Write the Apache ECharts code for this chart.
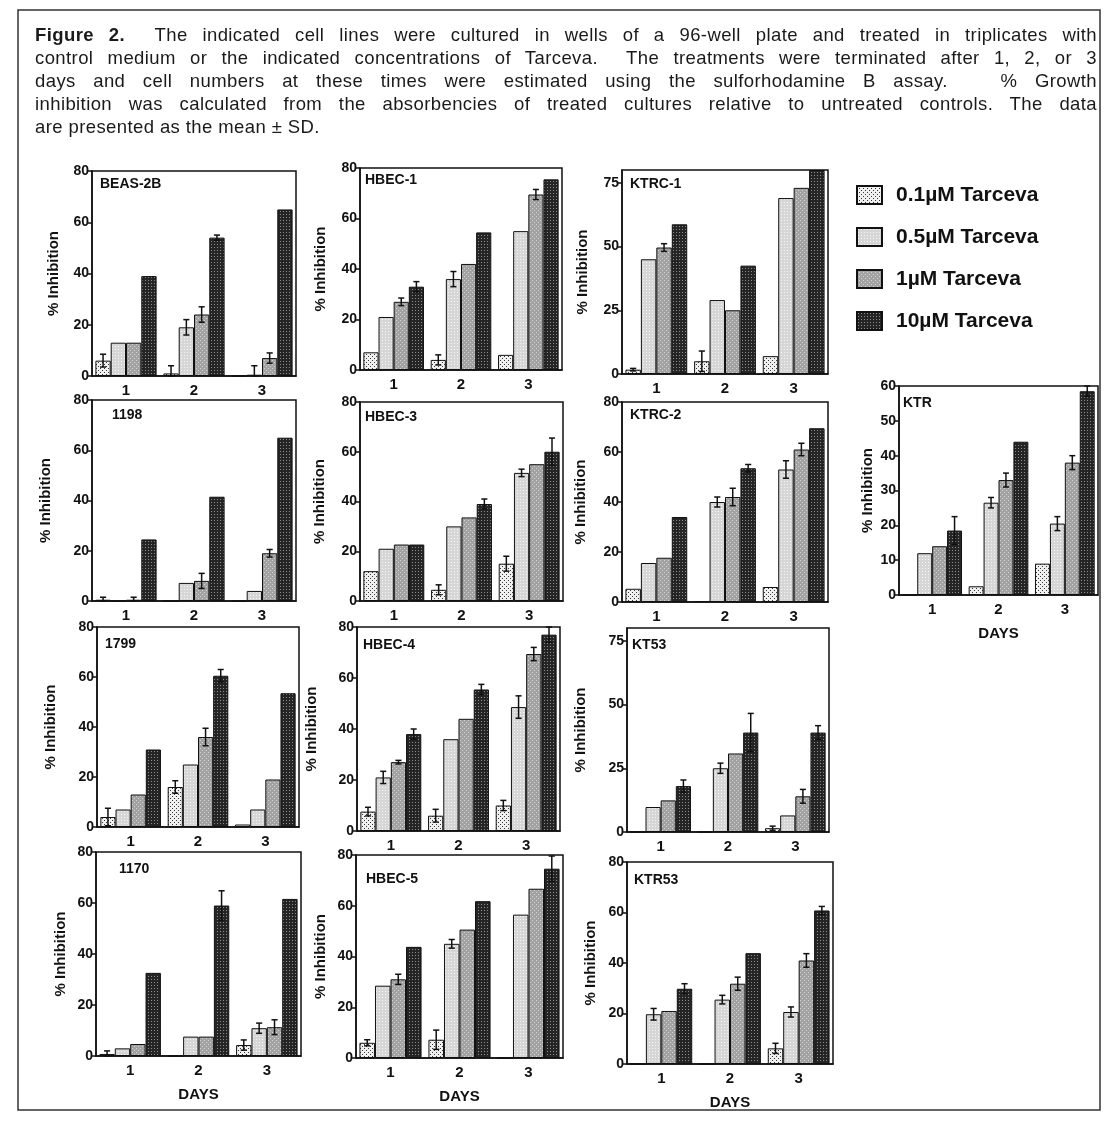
<!DOCTYPE html>
<html>
<head>
<meta charset="utf-8"/>
<title>Figure 2 - Tarceva growth inhibition</title>
<style>
	body { margin: 0; background: #fff; }
	#wrap { position: relative; width: 1106px; height: 1121px; }
	#chart { position: absolute; left: 0; top: 0; width: 1106px; height: 1121px; }
	#caption { position: absolute; left: 35px; top: 23px; width: 1062px; font-family: 'Liberation Sans', Arial, sans-serif; font-size: 18.5px; letter-spacing: 0.4px; line-height: 23px; color: #1a1a1a; }
	#caption div { text-align: justify; text-align-last: justify; white-space: nowrap; }
	#caption div.last { text-align: left; text-align-last: left; }
</style>
</head>
<body>
<div id="wrap">
	<div id="chart"></div>
	<div id="caption">
		<div><b>Figure 2.</b>&nbsp; The indicated cell lines were cultured in wells of a 96-well plate and treated in triplicates with</div>
		<div>control medium or the indicated concentrations of Tarceva.&nbsp; The treatments were terminated after 1, 2, or 3</div>
		<div>days and cell numbers at these times were estimated using the sulforhodamine B assay.&nbsp;&nbsp; % Growth</div>
		<div>inhibition was calculated from the absorbencies of treated cultures relative to untreated controls. The data</div>
		<div class="last">are presented as the mean ± SD.</div>
	</div>
</div>

<script src="https://cdn.jsdelivr.net/npm/echarts@6/dist/echarts.min.js"></script>
<script>
	var days = ['1', '2', '3'];
	var doses = ['0.1µM Tarceva', '0.5µM Tarceva', '1µM Tarceva', '10µM Tarceva'];

	// rows: 0.1, 0.5, 1, 10 µM ; columns: day 1, 2, 3  (% inhibition, SD)
	var beas2b    = [[6, 1, 0], [13, 19, 0.5], [13, 24, 7], [39, 54, 65]];
	var beas2bSD  = [[2.5, 3, 0], [0, 3, 3.5], [0, 3, 2], [0, 1, 0]];
	var hbec1     = [[7, 4, 6], [21, 36, 55], [27, 42, 69.5], [33, 54.5, 75.5]];
	var hbec1SD   = [[0, 2, 0], [0, 3, 0], [1.5, 0, 2], [2, 0, 0]];
	var ktrc1     = [[1.7, 5, 7], [45, 29, 69], [49.6, 25, 73], [58.7, 42.5, 80]];
	var ktrc1SD   = [[0.5, 4, 0], [0, 0, 0], [1.5, 0, 0], [0, 0, 0]];
	var ktr       = [[0, 2.5, 9], [12, 26.5, 20.5], [14, 33, 38], [18.5, 44, 58.5]];
	var ktrSD     = [[0, 0, 0], [0, 1.5, 2], [0, 2, 2], [4, 0, 1.5]];
	var c1198     = [[0.5, 0, 0], [0, 7.2, 4], [0.5, 8, 19], [24.5, 41.5, 65]];
	var c1198SD   = [[1, 0, 0], [0, 0, 0], [1, 3, 1.5], [0, 0, 0]];
	var hbec3     = [[12, 4.5, 15], [21, 30, 51.5], [22.7, 33.6, 55], [22.7, 39, 60]];
	var hbec3SD   = [[0, 2, 3], [0, 0, 1.5], [0, 0, 0], [0, 2, 5.5]];
	var ktrc2     = [[5.3, 0.4, 6], [15.6, 40, 53], [17.7, 42, 61], [34, 53.5, 69.5]];
	var ktrc2SD   = [[0, 0, 0], [0, 2, 3.5], [0, 3.5, 2.5], [0, 1.5, 0]];
	var c1799     = [[4, 16, 1], [7, 25, 7], [13, 36, 19], [31, 60.5, 53.5]];
	var c1799SD   = [[3.5, 2.5, 0], [0, 0, 0], [0, 3.5, 0], [0, 2.5, 0]];
	var hbec4     = [[7.6, 6, 10], [21, 36, 48.6], [27, 44, 69.4], [38, 55.5, 77]];
	var hbec4SD   = [[1.7, 2.5, 2], [2.4, 0, 4.4], [0.7, 0, 2.6], [2, 2, 3]];
	var kt53      = [[0, 0, 1.5], [9.8, 25, 6.5], [12.4, 30.8, 14], [18, 39, 39]];
	var kt53SD    = [[0, 0, 0.8], [0, 2, 0], [0, 0, 2.7], [2.4, 7.5, 2.7]];
	var c1170     = [[0.8, 0, 4.3], [3, 7.6, 10.9], [4.7, 7.6, 11.3], [32.6, 59, 61.6]];
	var c1170SD   = [[1.2, 0, 2], [0, 0, 2], [0, 0, 2.9], [0, 5.8, 0]];
	var hbec5     = [[6, 7.2, 0], [28.5, 45, 56.5], [31, 50.6, 66.7], [43.8, 61.8, 74.6]];
	var hbec5SD   = [[1.2, 3.8, 0], [0, 1.7, 0], [2, 0, 0], [0, 0, 5]];
	var ktr53     = [[0, 0, 6.2], [19.7, 25.5, 20.6], [21, 31.8, 41], [29.8, 43.9, 60.8]];
	var ktr53SD   = [[0, 0, 2], [2.3, 1.7, 2], [0, 2.6, 2.7], [2, 0, 1.6]];

	var font = "'Liberation Sans', Arial, sans-serif";
	var ink = '#111';

	// panel layout: plot box [left, top, width, height], y max / step, name gap, title offset
	var panels = [
		{ name: 'BEAS-2B', v: beas2b, sd: beas2bSD, box: [92, 171, 204, 205], max: 80, step: 20, gap: 31, t: [8, 6] },
		{ name: 'HBEC-1', v: hbec1, sd: hbec1SD, box: [360, 168, 202, 202], max: 80, step: 20, gap: 32, t: [5, 5] },
		{ name: 'KTRC-1', v: ktrc1, sd: ktrc1SD, box: [622, 170, 206, 204], max: 80, step: 25, gap: 32, t: [8, 7] },
		{ name: '1198', v: c1198, sd: c1198SD, box: [92, 400, 204, 201], max: 80, step: 20, gap: 39, t: [20, 8] },
		{ name: 'HBEC-3', v: hbec3, sd: hbec3SD, box: [360, 402, 203, 199], max: 80, step: 20, gap: 33, t: [5, 8] },
		{ name: 'KTRC-2', v: ktrc2, sd: ktrc2SD, box: [622, 402, 206, 200], max: 80, step: 20, gap: 34, t: [8, 6] },
		{ name: 'KTR', v: ktr, sd: ktrSD, box: [899, 386, 199, 209], max: 60, step: 10, gap: 24, t: [4, 10], daysLabel: true },
		{ name: '1799', v: c1799, sd: c1799SD, box: [97, 627, 202, 200], max: 80, step: 20, gap: 39, t: [8, 10] },
		{ name: 'HBEC-4', v: hbec4, sd: hbec4SD, box: [357, 627, 203, 204], max: 80, step: 20, gap: 38, t: [6, 11] },
		{ name: 'KT53', v: kt53, sd: kt53SD, box: [627, 628, 202, 204], max: 80, step: 25, gap: 39, t: [5, 10] },
		{ name: '1170', v: c1170, sd: c1170SD, box: [96, 852, 205, 204], max: 80, step: 20, gap: 28, t: [23, 10], daysLabel: true },
		{ name: 'HBEC-5', v: hbec5, sd: hbec5SD, box: [356, 855, 207, 203], max: 80, step: 20, gap: 28, t: [10, 17], daysLabel: true },
		{ name: 'KTR53', v: ktr53, sd: ktr53SD, box: [627, 862, 206, 202], max: 80, step: 20, gap: 29, t: [7, 11], daysLabel: true }
	];

	function pattern (bg, fg, size, dots) {
		var c = document.createElement('canvas');
		c.width = c.height = size;
		var g = c.getContext('2d');
		g.fillStyle = bg;
		g.fillRect(0, 0, size, size);
		g.fillStyle = fg;
		for (var i = 0; i < dots.length; i++) {
			g.fillRect(dots[i][0], dots[i][1], 1, 1);
		}
		return { image: c, repeat: 'repeat' };
	}

	var fills = [
		pattern('#f0f0f0', '#3a3a3a', 4, [[0, 0], [2, 2]]),
		pattern('#d6d6d6', '#f6f6f6', 3, [[1, 1]]),
		pattern('#a2a2a2', '#d4d4d4', 4, [[0, 0], [2, 2]]),
		pattern('#252525', '#8c8c8c', 3, [[1, 1]])
	];

	var catGap = 0.1;

	function errorBar (params, api) {
		var d = api.value(0), m = api.value(1), s = api.value(2), k = api.value(3);
		var band = api.size([1, 0])[0];
		var bw = band * (1 - catGap) / 4;
		var x = api.coord([d, m])[0] + (k - 1.5) * bw;
		var yTop = api.coord([d, m + s])[1];
		var yBot = api.coord([d, Math.max(m - s, 0)])[1];
		var w = bw * 0.2;
		var st = { stroke: ink, lineWidth: 1.5 };
		return {
			type: 'group',
			children: [
				{ type: 'line', shape: { x1: x, y1: yTop, x2: x, y2: yBot }, style: st },
				{ type: 'line', shape: { x1: x - w, y1: yTop, x2: x + w, y2: yTop }, style: st },
				{ type: 'line', shape: { x1: x - w, y1: yBot, x2: x + w, y2: yBot }, style: st }
			]
		};
	}

	var grids = [], xAxes = [], yAxes = [], series = [], titles = [];

	panels.forEach(function (p, i) {
		grids.push({
			left: p.box[0], top: p.box[1], width: p.box[2], height: p.box[3],
			show: true, borderColor: ink, borderWidth: 1.5, backgroundColor: 'transparent'
		});
		titles.push({
			text: p.name, left: p.box[0] + p.t[0], top: p.box[1] + p.t[1], padding: 0,
			textStyle: { fontFamily: font, fontSize: 14, fontWeight: 'bold', color: ink }
		});
		xAxes.push({
			gridIndex: i, type: 'category', data: days,
			axisLine: { lineStyle: { color: ink, width: 1.5 } },
			axisTick: { alignWithLabel: true, length: 4, lineStyle: { color: ink, width: 1.5 } },
			axisLabel: { color: ink, fontFamily: font, fontSize: 15, fontWeight: 'bold', margin: 7 },
			name: p.daysLabel ? 'DAYS' : '', nameLocation: 'middle', nameGap: 31,
			nameTextStyle: { color: ink, fontFamily: font, fontSize: 15, fontWeight: 'bold' }
		});
		yAxes.push({
			gridIndex: i, type: 'value', min: 0, max: p.max, interval: p.step,
			splitLine: { show: false },
			axisLine: { show: true, lineStyle: { color: ink, width: 1.5 } },
			axisTick: { show: true, length: 4, lineStyle: { color: ink, width: 1.5 } },
			axisLabel: { color: ink, fontFamily: font, fontSize: 14, fontWeight: 'bold', margin: 3, showMaxLabel: p.max % p.step === 0 },
			name: '% Inhibition', nameLocation: 'middle', nameGap: p.gap,
			nameTextStyle: { color: ink, fontFamily: font, fontSize: 15, fontWeight: 'bold' }
		});

		var err = [];
		for (var k = 0; k < 4; k++) {
			series.push({
				type: 'bar', name: doses[k], xAxisIndex: i, yAxisIndex: i,
				data: p.v[k], barGap: '0%', barCategoryGap: (catGap * 100) + '%',
				itemStyle: { color: fills[k], borderColor: ink, borderWidth: 1 }
			});
			for (var d = 0; d < 3; d++) {
				if (p.sd[k][d] > 0) err.push([d, p.v[k][d], p.sd[k][d], k]);
			}
		}
		series.push({
			type: 'custom', xAxisIndex: i, yAxisIndex: i, silent: true, z: 5,
			renderItem: errorBar, encode: { x: 0, y: 1 }, data: err
		});
	});

	var myChart = echarts.init(document.getElementById('chart'));
	myChart.setOption({
		animation: false,
		backgroundColor: '#fff',
		title: titles,
		legend: {
			orient: 'vertical', left: 851, top: 179, icon: 'rect',
			itemWidth: 25, itemHeight: 18, itemGap: 20, selectedMode: false,
			data: doses,
			textStyle: { color: ink, fontFamily: font, fontSize: 21, lineHeight: 22, fontWeight: 'bold', padding: [0, 0, 0, 9] }
		},
		graphic: [{
			type: 'rect', shape: { x: 18, y: 10, width: 1082, height: 1100 },
			style: { fill: 'none', stroke: '#333', lineWidth: 1.5 }, silent: true
		}],
		grid: grids,
		xAxis: xAxes,
		yAxis: yAxes,
		series: series
	});
</script>
</body>
</html>
